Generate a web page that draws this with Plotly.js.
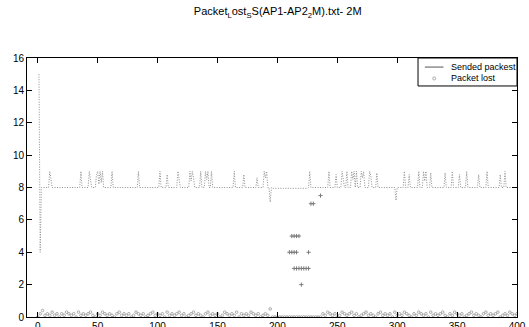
<!DOCTYPE html>
<html>
<head>
<meta charset="utf-8">
<script src="https://cdn.plot.ly/plotly-3.0.1.min.js"></script>
<style>html,body{margin:0;padding:0;background:#fff;}#chart{width:529px;height:327px;}</style>
</head>
<body>
<div id="chart"></div>
<script>
// Sended packets: packet number and value where the curve changes (flat at 8 in between)
const sendedPackets = [
1,2,3, 9,10,11,12, 35,36,37, 42,43,44,45, 48,49,50,51,52,53,54,55, 61,62,63, 83,84,85,
101,102,103, 107,108,109, 116,117,118,119, 126,127,128,129,130,131, 135,136,137,
139,140,141,142,143, 144,145,146, 163,164,165, 171,172,173, 182,183,184,
188,189,190,191,192, 193,194,195,196, 225,226,227,228,
242,243,244, 248,249,250, 253,254,255,256, 257,258,259, 261,262,263,264,265, 266,267,
269,270,271,272,273, 276,277,278,279, 282,283,284, 298,299,300,
305,306,307, 309,310,311, 317,318,319, 321,322,323,324,325, 327,328,329,
339,340,341, 345,346,347, 351,352,353, 357,358,359, 367,368,369, 374,375,376,
385,386,387, 389,390,391, 400
];
const sendedValues = [
15,4,8, 8,9,8.5,8, 8,9,8, 8,9,8.6,8, 8,8.8,9,8.2,9,8.3,9,8, 8,9,8, 8,9,8,
8,9,8, 8,8.8,8, 8,9,8.5,8, 8,9,8.4,9,8.6,8, 8,9,8,
8,9,8.5,9,8, 8,9,8, 8,9,8, 8,8.8,8, 8,8.6,8,
8,9,8.6,9,8, 8,7.1,8,7.95, 7.95,8,9,8,
8,9,8, 8,8.8,8, 8,9,8.6,8, 8,9,8, 8,9,8.5,9,8, 9,8,
8,9,8.6,9,8, 8,9,8.7,8, 8,8.9,8, 8,7.2,8,
8,9,8, 8,8.8,8, 8,9,8, 8,9,8.4,9,8, 8,8.9,8,
8,8.9,8, 8,9,8, 8,8.8,8, 8,9,8, 8,8.8,8, 8,9,8,
8,8.8,8, 8,9,8, 8
];
// Packets lost, sampled every 2nd packet from 0 to 400
const lostStep = 2;
const lostValues = [
0,0.2,0.4,0.1,0.2,0.1,0.3,0.1,0.2,0, 0.2,0.1,0.3,0.2,0.1,0.2,0,0.3,0.1,0.2, 0.1,0.2,0.3,0.1,0,0.2,0.1,0.3,0.2,0.1, 0.2,0.1,0,0.2,0.3,0.1,0.2,0.1,0.2,0,
0.1,0.3,0.2,0.1,0.2,0,0.1,0.2,0.3,0.1, 0.2,0.1,0.2,0,0.3,0.1,0.2,0.1,0.2,0.3, 0.1,0.2,0,0.1,0.2,0.3,0.1,0.2,0.1,0, 0.2,0.3,0.1,0.2,0.1,0.2,0,0.1,0.3,0.2,
0.1,0.2,0.1,0.3,0,0.2,0.1,0.2,0.1,0.3, 0.2,0.1,0.2,0,0.1,0.2,0.1,0.5,0,0, 0,0,0,0,0,0,0,0,0,0, 0,0,0,0,0,0,0,0,0,0.2,
0.1,0.3,0.2,0.1,0.2,0,0.1,0.3,0.2,0.1, 0.2,0.3,0.1,0.2,0,0.1,0.2,0.3,0.1,0.2, 0.1,0,0.2,0.3,0.1,0.2,0.1,0.2,0,0.3, 0.1,0.2,0.1,0.3,0.2,0.1,0,0.2,0.1,0.3,
0.2,0.1,0.2,0,0.3,0.1,0.2,0.1,0.2,0.3, 0.1,0,0.2,0.1,0.3,0.2,0.1,0.2,0,0.1, 0.2,0.3,0.1,0.2,0.1,0,0.2,0.3,0.1,0.2, 0.1,0.2,0.3,0,0.1,0.2,0.1,0.3,0.2,0.1,
0.2
];
// Scattered readings during the drop (packet, value)
const dropPackets = [212,214,216,218,210,212,214,216,226,214,216,218,220,222,224,226,220,228,230,236];
const dropValues  = [5,5,5,5,4,4,4,4,4,3,3,3,3,3,3,3,2,7,7,7.5];
const xTickVals = [0,50,100,150,200,250,300,350,400];
const yTickVals = [0,2,4,6,8,10,12,14,16];
const legendLabels = ['Sended packest', 'Packet lost'];

const lostPackets = lostValues.map((_, i) => i * lostStep);
const font = {family: 'Liberation Sans, Arial, sans-serif', color: '#000', size: 10};
const lineColor = '#8f8f8f';
const markColor = '#959595';

const traces = [
  {x: sendedPackets, y: sendedValues, name: legendLabels[0], type: 'scatter', mode: 'lines',
   line: {color: lineColor, width: 1, dash: '1px,1.5px'}},
  {x: lostPackets, y: lostValues, name: legendLabels[1], type: 'scatter', mode: 'markers',
   marker: {color: markColor, size: 2.6, symbol: 'circle-open', line: {width: 0.8}}},
  {x: dropPackets, y: dropValues, name: legendLabels[1], type: 'scatter', mode: 'markers',
   marker: {color: '#7a7a7a', size: 3, symbol: 'cross-thin-open', line: {width: 1, color: '#7a7a7a'}}}
];

const axisCommon = {showgrid: false, zeroline: false, showline: true, linecolor: '#000', linewidth: 1,
  mirror: 'ticks', ticks: 'inside', ticklen: 5, tickcolor: '#000', tickfont: font, automargin: false};

// Hand-drawn legend box (top right, inside the axes)
const lg = {x0: 0.798, x1: 1, y0: 0.892, y1: 1, row1: 0.965, row2: 0.921, sx0: 0.812, sx1: 0.850, mx: 0.831, tx: 0.862};
const shapes = [
  {type: 'rect', xref: 'paper', yref: 'paper', x0: lg.x0, x1: lg.x1, y0: lg.y0, y1: lg.y1,
   line: {color: '#000', width: 1}, fillcolor: '#fff', layer: 'above'},
  {type: 'line', xref: 'paper', yref: 'paper', x0: lg.sx0, x1: lg.sx1, y0: lg.row1, y1: lg.row1,
   line: {color: '#555', width: 1}, layer: 'above'},
  {type: 'circle', xref: 'paper', yref: 'paper', x0: lg.mx - 0.003, x1: lg.mx + 0.003, y0: lg.row2 - 0.006, y1: lg.row2 + 0.006,
   line: {color: markColor, width: 0.8}, layer: 'above'}
];
const annotations = legendLabels.map((t, i) => ({
  text: t, xref: 'paper', yref: 'paper', x: lg.tx, y: i === 0 ? lg.row1 : lg.row2,
  xanchor: 'left', yanchor: 'middle', showarrow: false, font: {family: font.family, size: 9, color: '#000'}
}));

const layout = {
  width: 529, height: 327,
  margin: {l: 27, r: 12, t: 58, b: 10},
  paper_bgcolor: '#fff', plot_bgcolor: '#fff',
  font: font,
  title: {text: 'Packet<sub>L</sub>ost<sub>S</sub>S(AP1-AP2<sub>2</sub>M).txt- 2M', font: {family: font.family, size: 11, color: '#000'},
          x: 0.525, xanchor: 'center', y: 0.965, yanchor: 'middle'},
  xaxis: Object.assign({}, axisCommon, {range: [-9, 400], tickvals: xTickVals, ticktext: xTickVals.map(String)}),
  yaxis: Object.assign({}, axisCommon, {range: [0, 16], tickvals: yTickVals, ticktext: yTickVals.map(String)}),
  showlegend: false,
  shapes: shapes,
  annotations: annotations
};

Plotly.newPlot('chart', traces, layout, {displayModeBar: false, staticPlot: true});
</script>
</body>
</html>
